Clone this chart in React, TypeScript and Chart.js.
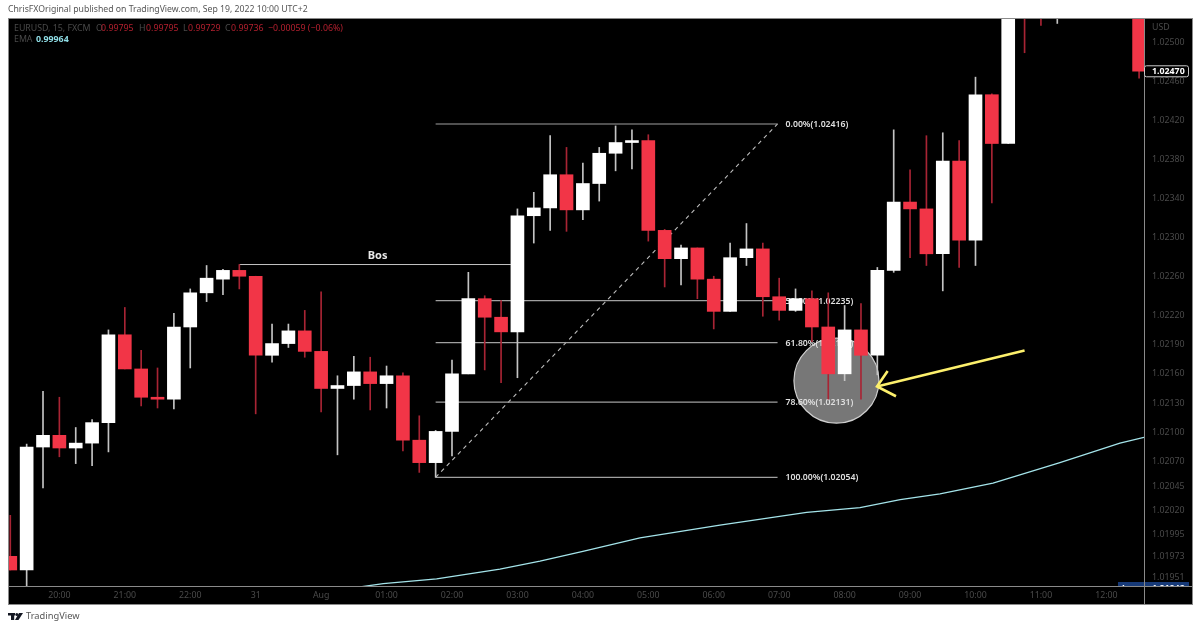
import React, { useEffect, useRef } from "react";
import { Chart, registerables } from "chart.js";

Chart.register(...registerables);

const opens = [1.01973,1.01959,1.02085,1.02097,1.02084,1.02089,1.0211,1.022,1.02165,1.02136,1.02134,1.02208,1.02243,1.02257,1.02266,1.0226,1.02179,1.02191,1.02204,1.02183,1.02145,1.02148,1.02162,1.0215,1.02158,1.02092,1.02069,1.02101,1.0216,1.02237,1.02218,1.02203,1.02322,1.0233,1.02364,1.02328,1.02355,1.02386,1.02397,1.02399,1.02307,1.02278,1.02289,1.02257,1.02224,1.02279,1.02288,1.02239,1.02225,1.02237,1.02208,1.0216,1.02205,1.02179,1.02266,1.02336,1.02329,1.02283,1.02378,1.02297,1.02446,1.02396,1.0258,1.0257,1.0254,1.02565,1.0259,1.0256,1.02585,1.02555];
const highs = [1.02015,1.02088,1.02142,1.02136,1.02105,1.02113,1.02205,1.02228,1.02184,1.02166,1.02222,1.02247,1.02271,1.02267,1.02272,1.0226,1.02211,1.02211,1.02225,1.02244,1.02158,1.02178,1.02177,1.02168,1.02161,1.02117,1.02102,1.02174,1.02264,1.0224,1.02235,1.02329,1.02346,1.02404,1.02392,1.02376,1.02392,1.02414,1.0241,1.02405,1.02308,1.02292,1.02289,1.0226,1.02294,1.02314,1.02294,1.02258,1.02247,1.02245,1.02243,1.0223,1.02232,1.02269,1.0241,1.02369,1.02404,1.02407,1.02399,1.02464,1.02447,1.02575,1.026,1.0259,1.0258,1.0261,1.02605,1.026,1.026,1.0257];
const lows = [1.01959,1.0194,1.02043,1.02075,1.02068,1.02066,1.0208,1.02165,1.02127,1.02125,1.02124,1.02166,1.02234,1.02241,1.02247,1.02119,1.02172,1.02187,1.02177,1.02121,1.02077,1.02134,1.02123,1.02125,1.02081,1.02059,1.02054,1.02076,1.0216,1.02164,1.02151,1.02156,1.02294,1.02307,1.02306,1.02318,1.02337,1.02368,1.0237,1.02296,1.02249,1.02251,1.02237,1.02206,1.02224,1.02271,1.02219,1.02215,1.02224,1.02193,1.02134,1.02153,1.02134,1.02159,1.02264,1.02279,1.02271,1.02245,1.02269,1.02271,1.02335,1.02396,1.02489,1.02517,1.02519,1.02545,1.0254,1.02545,1.02545,1.02463];
const closes = [1.01959,1.02085,1.02097,1.02084,1.02089,1.0211,1.022,1.02165,1.02136,1.02134,1.02208,1.02243,1.02258,1.02266,1.0226,1.02179,1.02191,1.02204,1.02183,1.02145,1.02148,1.02162,1.0215,1.02158,1.02092,1.02069,1.02101,1.0216,1.02237,1.02218,1.02203,1.02322,1.0233,1.02364,1.02328,1.02355,1.02386,1.02397,1.02399,1.02307,1.02278,1.02289,1.02257,1.02224,1.02279,1.02288,1.02239,1.02225,1.02237,1.02208,1.0216,1.02205,1.02179,1.02266,1.02336,1.02329,1.02283,1.02378,1.02297,1.02446,1.02396,1.0256,1.02535,1.0254,1.02565,1.0259,1.0256,1.02585,1.0257,1.0247];

const xTickIndex = [3,7,11,15,19,23,27,31,35,39,43,47,51,55,59,63,67];
const xTickLabels = ["20:00","21:00","22:00","31","Aug","01:00","02:00","03:00","04:00","05:00","06:00","07:00","08:00","09:00","10:00","11:00","12:00"];
const yTicks = [1.025,1.0246,1.0242,1.0238,1.0234,1.023,1.0226,1.0222,1.0219,1.0216,1.0213,1.021,1.0207,1.02045,1.0202,1.01995,1.01973,1.01951];

const emaX = [21.5,22.8,26.06,29.93,32.38,35,38.49,43.38,48.68,51.94,54.4,56.83,60.07,64.16,67.83,69.3];
const emaY = [1.01942,1.01945,1.0195,1.0196,1.01968,1.01978,1.01992,1.02005,1.02018,1.02023,1.02031,1.02037,1.02048,1.02069,1.02089,1.02095];

const fibStart = 26;
const fibEnd = 46.9;
const fibLevels = [1.02416,1.02235,1.02192,1.02131,1.02054];
const fibLabels = ["0.00%(1.02416)","50.00%(1.02235)","61.80%(1.02192)","78.60%(1.02131)","100.00%(1.02054)"];

const bosX = [14,30.6];
const bosY = [1.02272,1.02272];
const bosText = "Bos";

const zoneX = [50.5];
const zoneY = [1.02153];
const zoneR = [42.5];

const arrowShaftX = [62,52.98];
const arrowShaftY = [1.02184,1.02147];
const arrowHeadX = [53.63,52.98,54.14];
const arrowHeadY = [1.02163,1.02147,1.02137];

const lastPrice = 1.0247;
const emaLastText = "1.01842";
const RED = "#f23547";
const YELLOW = "#fdf06c";
const FONT = '"Noto Sans", sans-serif';

const pts = (xs: number[], ys: number[]) => xs.map((x, i) => ({ x, y: ys[i] }));
const up = opens.map((o, i) => closes[i] >= o);

const chrome = {
  id: "chrome",
  beforeDraw(chart: any) {
    const c = chart.ctx;
    c.save();
    c.fillStyle = "#fff";
    c.fillRect(0, 0, 1200, 628);
    c.fillStyle = "#000";
    c.fillRect(8, 18, 1184, 586);
    c.restore();
  },
  afterDatasetDraw(chart: any, args: any) {
    if (args.index !== 0) return;
    const c = chart.ctx;
    const x = chart.scales.x;
    const y = chart.scales.y;
    c.save();
    c.font = `600 8.7px ${FONT}`;
    c.fillStyle = "#e0e0e0";
    c.textBaseline = "middle";
    fibLevels.forEach((lv, i) => c.fillText(fibLabels[i], x.getPixelForValue(fibEnd) + 8, y.getPixelForValue(lv) + 0.5));
    c.font = `700 11px ${FONT}`;
    c.textAlign = "center";
    c.fillStyle = "#e8e8e8";
    c.fillText(bosText, x.getPixelForValue((bosX[0] + bosX[1]) / 2) + 2.5, y.getPixelForValue(bosY[0]) - 9);
    c.restore();
  },
  afterDraw(chart: any) {
    const c = chart.ctx;
    const y = chart.scales.y;
    c.save();
    c.textBaseline = "middle";

    // clipped navy EMA price tag
    c.save();
    c.beginPath();
    c.rect(1118, 18, 74, 568);
    c.clip();
    c.fillStyle = "#173a78";
    c.fillRect(1118, 582, 71, 12);
    c.fillStyle = "#fff";
    c.font = `700 8.8px ${FONT}`;
    c.fillText("Low", 1122, 588);
    c.fillText(emaLastText, 1152, 588);
    c.restore();

    // frame
    c.strokeStyle = "#8a8a8a";
    c.lineWidth = 1;
    c.strokeRect(8.5, 18.5, 1184, 586);
    c.beginPath();
    c.moveTo(1144.5, 18);
    c.lineTo(1144.5, 604);
    c.moveTo(8, 586.5);
    c.lineTo(1192, 586.5);
    c.stroke();

    // last price tag
    const py = y.getPixelForValue(lastPrice);
    c.fillStyle = "#000";
    c.strokeStyle = "#c8c8c8";
    c.beginPath();
    c.roundRect(1144.5, py - 5.5, 44, 11, 2);
    c.fill();
    c.stroke();
    c.fillStyle = "#fff";
    c.font = `700 8.8px ${FONT}`;
    c.fillText(lastPrice.toFixed(5), 1152, py + 0.5);

    c.font = `8.8px ${FONT}`;
    c.fillStyle = "#4a4a4a";
    c.fillText("USD", 1152, 27);

    // header line
    c.fillStyle = "#555";
    c.font = `8.7px ${FONT}`;
    c.fillText("ChrisFXOriginal published on TradingView.com, Sep 19, 2022 10:00 UTC+2", 8, 10);

    // legend
    const g = "#4a4a4a";
    const r = "#b3202f";
    const seg: [string, number, string][] = [
      ["EURUSD, 15, FXCM", 14, g],
      ["O", 96, g], ["0.99795", 101, r],
      ["H", 139, g], ["0.99795", 146, r],
      ["L", 183, g], ["0.99729", 188, r],
      ["C", 225, g], ["0.99736", 231, r],
      ["\u22120.00059 (\u22120.06%)", 268, r],
    ];
    c.font = `8.8px ${FONT}`;
    seg.forEach(([t, sx, col]) => {
      c.fillStyle = col;
      c.fillText(t, sx, 28);
    });
    c.fillStyle = g;
    c.fillText("EMA", 14, 39);
    c.fillStyle = "#8fdde5";
    c.font = `700 8.8px ${FONT}`;
    c.fillText("0.99964", 36, 39);

    // footer brand
    c.fillStyle = "#131722";
    c.fillRect(8, 613, 7, 2.5);
    c.fillRect(11, 613, 3.2, 7);
    c.beginPath();
    c.arc(16.8, 614.4, 1.5, 0, Math.PI * 2);
    c.fill();
    c.beginPath();
    c.moveTo(19, 613);
    c.lineTo(23, 613);
    c.lineTo(18.5, 620);
    c.lineTo(15, 620);
    c.closePath();
    c.fill();
    c.fillStyle = "#555";
    c.font = `9.3px ${FONT}`;
    c.fillText("TradingView", 26, 616.5);
    c.restore();
  },
};

export default function App() {
  const ref = useRef<HTMLCanvasElement | null>(null);
  useEffect(() => {
    if (!ref.current) return;
    const line = (data: any[], color: string, width: number, order: number, dash: number[] = []) => ({
      type: "line" as const,
      data,
      borderColor: color,
      borderWidth: width,
      borderDash: dash,
      pointRadius: 0,
      tension: 0,
      fill: false,
      order,
    });
    const chart = new Chart(ref.current, {
      type: "bar",
      data: {
        datasets: [
          {
            type: "bubble",
            data: zoneX.map((x, i) => ({ x, y: zoneY[i], r: zoneR[i] })),
            backgroundColor: "#777777",
            borderColor: "#cfcfcf",
            borderWidth: 1.2,
            order: 10,
          },
          ...fibLevels.map((lv) => line(pts([fibStart, fibEnd], [lv, lv]), "#a0a0a0", 1.2, 11)),
          line(pts([fibStart, fibEnd], [fibLevels[4], fibLevels[0]]), "#bdbdbd", 1.1, 11, [4, 4]),
          line(pts(bosX, bosY), "#c4c4c4", 1, 11),
          line(pts(emaX, emaY), "#a4e4ea", 1.3, 4),
          {
            type: "bar",
            data: highs.map((h, i) => ({ x: i, y: [lows[i], h] })),
            backgroundColor: up.map((u) => (u ? "#c4c4c4" : "#a82434")),
            barThickness: 1,
            grouped: false,
            order: 3,
          },
          {
            type: "bar",
            data: opens.map((o, i) => ({ x: i, y: [o, closes[i]] })),
            backgroundColor: up.map((u) => (u ? "#ffffff" : RED)),
            barThickness: 13,
            grouped: false,
            order: 2,
          },
          line(pts(arrowShaftX, arrowShaftY), YELLOW, 2.6, 1),
          line(pts(arrowHeadX, arrowHeadY), YELLOW, 2.6, 1),
        ] as any,
      },
      options: {
        animation: false,
        responsive: false,
        events: [],
        layout: { autoPadding: false, padding: { left: 8, top: 18, right: 8, bottom: 24 } },
        plugins: { legend: { display: false }, tooltip: { enabled: false }, title: { display: false } },
        scales: {
          x: {
            type: "linear",
            offset: false,
            min: -0.14,
            max: 69.3,
            grid: { display: false, drawTicks: false },
            border: { display: false },
            ticks: {
              autoSkip: false,
              maxRotation: 0,
              padding: 4,
              color: "#4a4a4a",
              font: { family: FONT, size: 8.8 },
              callback: (v: any) => {
                const k = xTickIndex.indexOf(Number(v));
                return k >= 0 ? xTickLabels[k] : "";
              },
            },
            afterBuildTicks: (s: any) => {
              s.ticks = xTickIndex.map((value) => ({ value }));
            },
            afterFit: (s: any) => {
              s.height = 18;
            },
          },
          y: {
            type: "linear",
            position: "right",
            min: 1.019426,
            max: 1.025246,
            grid: { display: false, drawTicks: false },
            border: { display: false },
            ticks: {
              autoSkip: false,
              padding: 8,
              color: "#4a4a4a",
              font: { family: FONT, size: 8.8 },
              callback: (v: any) => Number(v).toFixed(5),
            },
            afterBuildTicks: (s: any) => {
              s.ticks = yTicks.map((value) => ({ value }));
            },
            afterFit: (s: any) => {
              s.width = 48;
            },
          },
        },
      } as any,
      plugins: [chrome],
    });
    return () => chart.destroy();
  }, []);
  return (
    <div style={{ position: "fixed", left: 0, top: 0, width: 1200, height: 628, background: "#fff" }}>
      <canvas ref={ref} width={1200} height={628} style={{ display: "block" }} />
    </div>
  );
}
